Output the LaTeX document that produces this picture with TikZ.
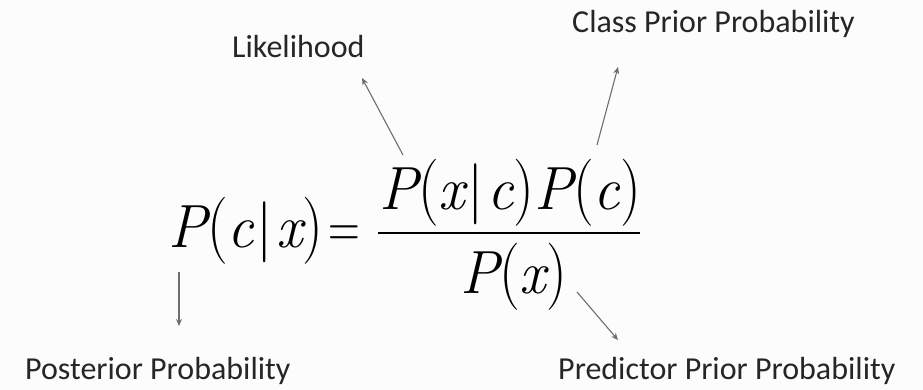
\documentclass[tikz,border=0pt]{standalone}
\usepackage{fontspec}
\usepackage{graphicx}
\newfontfamily\lblfont{Carlito}
\usetikzlibrary{arrows.meta}
\definecolor{bgc}{HTML}{FCFCFC}
\definecolor{lblc}{HTML}{262626}
\definecolor{arrc}{HTML}{6E6E6E}
\newcommand\myLP{{\upshape\scalebox{1}[1.1]{(}}}
\newcommand\myRP{{\upshape\scalebox{1}[1.1]{)}}}
\newcommand\myBar{\kern3pt{\upshape|}\kern3pt}
\newcommand\fmltxt[1]{\scalebox{0.96}[1]{\fontsize{61}{61}\selectfont #1}}
\tikzset{
  lbl/.style={anchor=base west, inner sep=0pt, text=lblc, font=\lblfont\fontsize{32}{32}\selectfont},
  fml/.style={anchor=base west, inner sep=0pt},
  conn/.style={draw=arrc, line width=1.1pt, -{Stealth[length=7pt,width=6pt]}},
}
\begin{document}
\begin{tikzpicture}[x=1pt,y=-1pt]
\fill[bgc] (0,0) rectangle (923,390);
\useasboundingbox (0,0) rectangle (923,390);
% formula
\node[fml] (lhs) at (168,247) {\fmltxt{\itshape P\myLP c\myBar x\myRP}};
\node[fml] (eq) at (328,247) {\scalebox{0.72}[1]{\fontsize{61}{61}\selectfont =}};
\node[fml] (num) at (379,210) {\fmltxt{\itshape P\myLP x\myBar c\myRP P\myLP c\myRP}};
\node[fml] (den) at (460,293) {\fmltxt{\itshape P\myLP x\myRP}};
\coordinate (fl) at (378,233);
\coordinate (fr) at (640,233);
\draw[line width=2.6pt] (fl) -- (fr);
% labels
\node[lbl] (lik) at (232,58) {Likelihood};
\node[lbl] (cpp) at (572,33) {Class Prior Probability};
\node[lbl] (post) at (25,379) {Posterior Probability};
\node[lbl] (pred) at (558,379) {Predictor Prior Probability};
% connectors
\coordinate (a1s) at (403,155);
\coordinate (a1e) at (362,78);
\coordinate (a2s) at (597,145);
\coordinate (a2e) at (618,67);
\coordinate (a3s) at (179,272);
\coordinate (a3e) at (179,326);
\coordinate (a4s) at (577,292);
\coordinate (a4e) at (618,340);
\draw[conn] (a1s) -- (a1e);
\draw[conn] (a2s) -- (a2e);
\draw[conn] (a3s) -- (a3e);
\draw[conn] (a4s) -- (a4e);
\end{tikzpicture}
\end{document}
